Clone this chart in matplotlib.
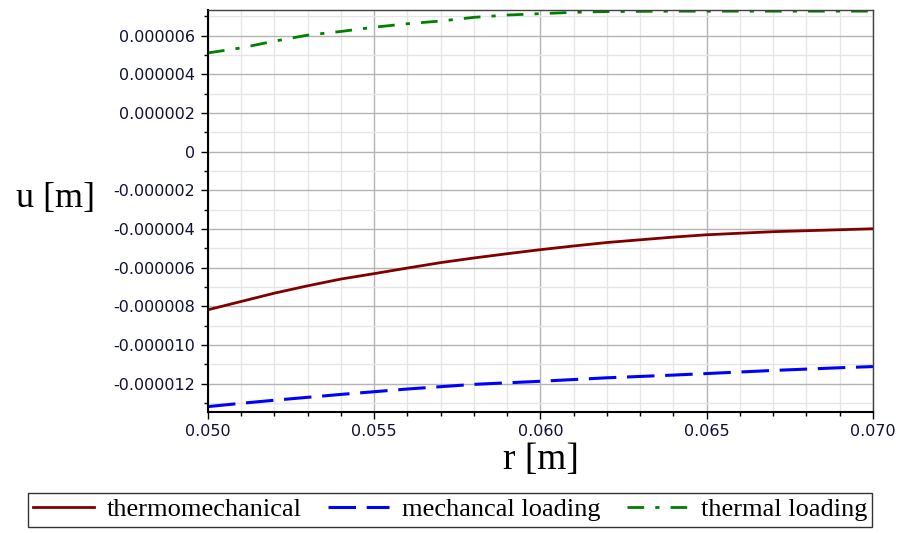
import matplotlib.pyplot as plt
import numpy as np
from matplotlib.ticker import FuncFormatter, MultipleLocator

# radius [m]
r = [0.050, 0.051, 0.052, 0.053, 0.054, 0.055, 0.056, 0.057, 0.058, 0.059, 0.060,
     0.061, 0.062, 0.063, 0.064, 0.065, 0.066, 0.067, 0.068, 0.069, 0.070]

# displacement (in 1e-6 m)
u_thermomech = [-8.18, -7.75, -7.32, -6.94, -6.59, -6.31, -6.02, -5.74, -5.50, -5.28, -5.07,
                -4.88, -4.70, -4.56, -4.42, -4.30, -4.22, -4.14, -4.09, -4.04, -3.99]
u_mech = [-13.19, -13.02, -12.86, -12.71, -12.56, -12.42, -12.28, -12.16, -12.04, -11.96, -11.88,
          -11.79, -11.70, -11.63, -11.56, -11.48, -11.40, -11.32, -11.25, -11.18, -11.12]
u_thermal = [5.11, 5.37, 5.72, 6.03, 6.22, 6.44, 6.62, 6.76, 6.95, 7.07, 7.14,
             7.21, 7.25, 7.26, 7.27, 7.27, 7.27, 7.27, 7.27, 7.27, 7.27]

labels = ['thermomechanical', 'mechancal loading', 'thermal loading']

fig = plt.figure(figsize=(9, 5.33), dpi=100)
ax = fig.add_axes([208 / 900, 1 - 412 / 533, 665 / 900, 402 / 533])

sc = 1e-6
ax.plot(r, np.array(u_thermomech) * sc, color='#800000', lw=2.0, label=labels[0])
ax.plot(r, np.array(u_mech) * sc, color='#0000ff', lw=2.2, dashes=(9, 3.5), label=labels[1])
ax.plot(r, np.array(u_thermal) * sc, color='#008000', lw=2.0, dashes=(6, 4, 1.5, 4), label=labels[2])

ax.set_xlim(0.050, 0.070)
ax.set_ylim(-13.47e-6, 7.33e-6)

ax.xaxis.set_major_locator(MultipleLocator(0.005))
ax.xaxis.set_minor_locator(MultipleLocator(0.001))
ax.yaxis.set_major_locator(MultipleLocator(2e-6))
ax.yaxis.set_minor_locator(MultipleLocator(1e-6))

def yfmt(v, pos):
    if abs(v) < 1e-12:
        return '0'
    s = '%.6f' % abs(v)
    return ('-' + s) if v < 0 else s

ax.yaxis.set_major_formatter(FuncFormatter(yfmt))
ax.xaxis.set_major_formatter(FuncFormatter(lambda v, p: '%.3f' % v))

ax.grid(which='major', color='#b4b4b4', lw=1.0)
ax.grid(which='minor', color='#e6e6e6', lw=1.0)
ax.set_axisbelow(True)

for s in ['top', 'right']:
    ax.spines[s].set_color('#404040')
    ax.spines[s].set_linewidth(1.0)
for s in ['left', 'bottom']:
    ax.spines[s].set_color('black')
    ax.spines[s].set_linewidth(1.5)

ax.tick_params(which='major', direction='out', length=5, width=1, labelsize=11.5,
               labelcolor='#10103a', pad=4)
ax.tick_params(which='minor', direction='out', length=3, width=1)
for t in ax.get_xticklabels() + ax.get_yticklabels():
    t.set_family('DejaVu Sans')

ax.set_ylabel('u [m]', family='Liberation Serif', fontsize=26, rotation=0)
ax.yaxis.set_label_coords(-0.23, 0.49)
ax.set_xlabel('r [m]', family='Liberation Serif', fontsize=27, labelpad=2)

leg = fig.legend(loc='lower center', bbox_to_anchor=(0.5, 0.002), ncol=3,
                 prop={'family': 'Liberation Serif', 'size': 19}, frameon=True,
                 fancybox=False, edgecolor='black', handlelength=2.3,
                 handletextpad=0.5, columnspacing=1.0, borderpad=0.2,
                 borderaxespad=0.2)
leg.get_frame().set_linewidth(1.0)

plt.savefig('out.png', dpi=100)
